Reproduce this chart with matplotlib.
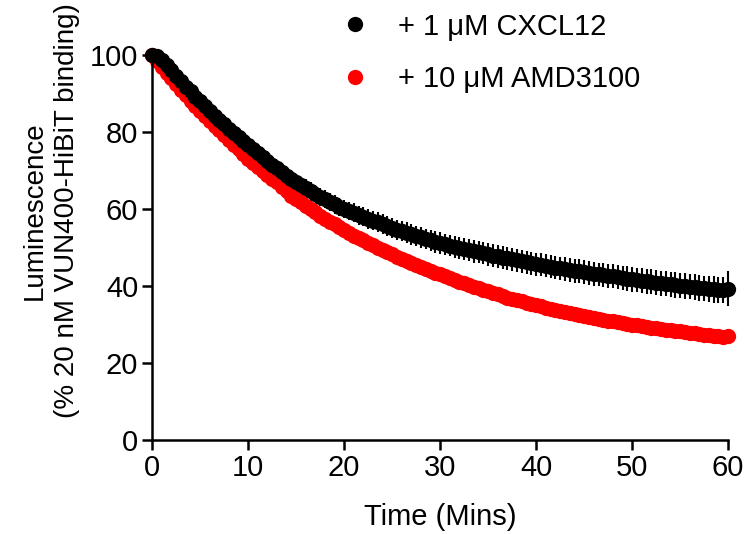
import matplotlib
matplotlib.use("Agg")
import matplotlib.pyplot as plt
import numpy as np
from matplotlib.lines import Line2D

plt.rcParams["font.family"] = ["Liberation Sans", "DejaVu Sans"]

# sampling grid: one read every 30 s over the hour
time_min = np.arange(0, 60.5, 0.5)

# + 1 uM CXCL12 (mean, SEM)
cxcl12_mean = [
    100, 99.8, 98.8, 97.5, 96.2, 94.6, 93.2, 91.8, 90.6, 89.2,
    88.0, 86.7, 85.5, 84.2, 83.1, 82.0, 80.9, 79.7, 78.6, 77.6,
    76.5, 75.5, 74.5, 73.4, 72.5, 71.4, 70.6, 69.5, 68.7, 67.8,
    67.0, 66.2, 65.5, 64.7, 64.0, 63.2, 62.6, 61.8, 61.2, 60.5,
    60.0, 59.5, 59.0, 58.4, 58.0, 57.4, 57.0, 56.5, 56.0, 55.5,
    55.1, 54.6, 54.2, 53.8, 53.4, 53.0, 52.6, 52.2, 51.9, 51.5,
    51.2, 50.8, 50.5, 50.2, 49.9, 49.6, 49.3, 49.0, 48.8, 48.5,
    48.2, 47.9, 47.7, 47.4, 47.2, 46.9, 46.7, 46.4, 46.2, 45.9,
    45.7, 45.5, 45.3, 45.0, 44.8, 44.6, 44.4, 44.2, 44.0, 43.8,
    43.6, 43.4, 43.2, 43.0, 42.8, 42.6, 42.5, 42.3, 42.1, 41.9,
    41.7, 41.6, 41.4, 41.2, 41.1, 40.9, 40.7, 40.6, 40.4, 40.3,
    40.1, 40.0, 39.8, 39.7, 39.5, 39.4, 39.2, 39.1, 39.0, 38.9,
    39.3,
]
cxcl12_sem = [
    0.3, 0.4, 0.5, 0.5, 0.6, 0.7, 0.8, 0.8, 0.9, 1.0,
    1.0, 1.1, 1.2, 1.2, 1.3, 1.4, 1.4, 1.5, 1.5, 1.6,
    1.6, 1.7, 1.7, 1.8, 1.8, 1.9, 1.9, 2.0, 2.0, 2.1,
    2.1, 2.1, 2.2, 2.2, 2.2, 2.3, 2.3, 2.3, 2.4, 2.4,
    2.4, 2.4, 2.5, 2.5, 2.5, 2.5, 2.5, 2.6, 2.6, 2.6,
    2.6, 2.6, 2.6, 2.7, 2.7, 2.7, 2.7, 2.7, 2.7, 2.8,
    2.8, 2.8, 2.8, 2.8, 2.8, 2.8, 2.9, 2.9, 2.9, 2.9,
    2.9, 2.9, 2.9, 2.9, 3.0, 3.0, 3.0, 3.0, 3.0, 3.0,
    3.0, 3.0, 3.0, 3.0, 3.0, 3.0, 3.1, 3.1, 3.1, 3.1,
    3.1, 3.1, 3.1, 3.1, 3.1, 3.1, 3.1, 3.2, 3.2, 3.2,
    3.2, 3.2, 3.2, 3.2, 3.2, 3.2, 3.2, 3.2, 3.2, 3.3,
    3.3, 3.3, 3.3, 3.3, 3.3, 3.3, 3.3, 3.4, 3.4, 3.4,
    4.6,
]

# + 10 uM AMD3100 (mean)
amd3100_mean = [
    100, 98.5, 97.0, 95.4, 94.0, 92.4, 91.0, 89.5, 88.0, 86.7,
    85.4, 84.1, 82.9, 81.6, 80.4, 79.1, 77.9, 76.6, 75.5, 74.2,
    73.0, 72.0, 71.0, 69.9, 68.9, 67.9, 66.9, 65.7, 64.6, 63.5,
    62.5, 61.7, 60.9, 60.0, 59.1, 58.3, 57.5, 56.7, 56.0, 55.2,
    54.5, 53.8, 53.1, 52.5, 51.9, 51.2, 50.6, 50.0, 49.4, 48.8,
    48.2, 47.6, 47.1, 46.5, 46.0, 45.5, 45.0, 44.5, 44.0, 43.5,
    43.0, 42.5, 42.0, 41.6, 41.1, 40.7, 40.2, 39.8, 39.4, 39.0,
    38.6, 38.2, 37.8, 37.4, 37.0, 36.7, 36.3, 36.0, 35.6, 35.3,
    35.0, 34.7, 34.4, 34.1, 33.8, 33.5, 33.2, 33.0, 32.7, 32.4,
    32.2, 31.9, 31.7, 31.4, 31.2, 31.0, 30.8, 30.6, 30.4, 30.2,
    30.0, 29.8, 29.6, 29.4, 29.2, 29.0, 28.8, 28.7, 28.5, 28.3,
    28.2, 28.0, 27.8, 27.7, 27.5, 27.3, 27.2, 27.0, 26.9, 26.8,
    27.0,
]

labels = ["+ 1 \u03bcM CXCL12", "+ 10 \u03bcM AMD3100"]
colors = ["black", "#ff0000"]
FS = 21

fig = plt.figure(figsize=(7.46, 5.34), dpi=100)
ax = fig.add_axes([0.204, 0.176, 0.772, 0.721])

ax.plot(time_min, amd3100_mean, "o", color=colors[1], ms=11, mew=0,
        zorder=2, clip_on=False)
ax.errorbar(time_min, cxcl12_mean, yerr=cxcl12_sem, fmt="o", color=colors[0],
            ms=11, mew=0, elinewidth=1.5, capsize=4, capthick=1.5,
            zorder=3, clip_on=False)

ax.set_xlim(0, 60)
ax.set_ylim(0, 100)
ax.set_xticks([0, 10, 20, 30, 40, 50, 60])
ax.set_yticks([0, 20, 40, 60, 80, 100])
ax.tick_params(labelsize=FS, width=1.8, length=7, color="black", pad=3)

for side in ["top", "right"]:
    ax.spines[side].set_visible(False)
for side in ["left", "bottom"]:
    ax.spines[side].set_linewidth(1.8)

ax.set_xlabel("Time (Mins)", fontsize=FS)
ax.xaxis.set_label_coords(0.5, -0.163)
ax.set_ylabel("Luminescence\n(% 20 nM VUN400-HiBiT binding)", fontsize=20,
              linespacing=1.3)
ax.yaxis.set_label_coords(-0.125, 0.595)

# -- legend, sits above the plot area ---------------------------------------
handles = [Line2D([], [], ls="none", marker="o", color=c, ms=11, mew=0)
           for c in colors]
ax.legend(handles, labels, loc="upper left", bbox_to_anchor=(0.322, 1.11),
          frameon=False, fontsize=FS, handletextpad=0.88, labelspacing=0.85,
          handlelength=1.2, borderaxespad=0, borderpad=0)

fig.savefig("out.png", dpi=100)
